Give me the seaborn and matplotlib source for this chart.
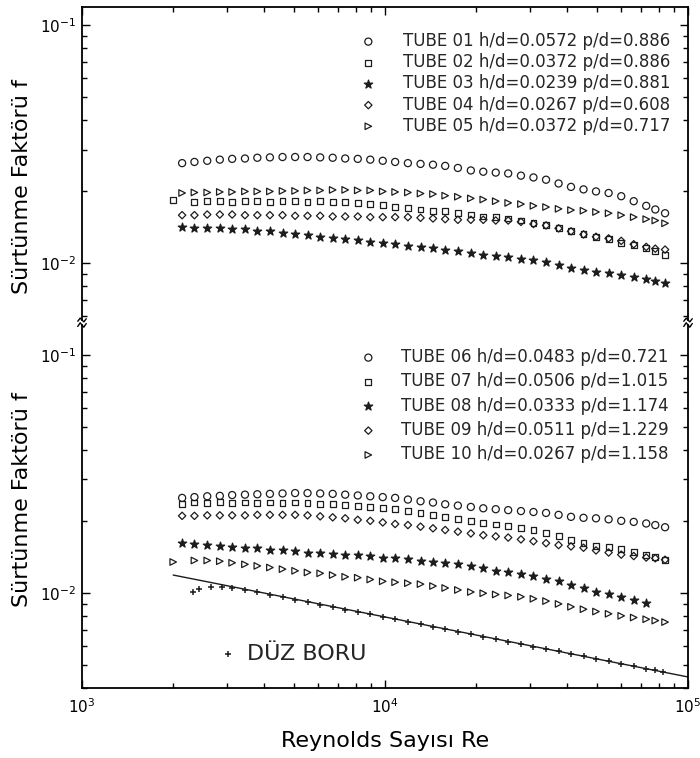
import matplotlib
matplotlib.use("Agg")
import matplotlib.pyplot as plt
import matplotlib.ticker as mticker
import seaborn as sns
import pandas as pd

# ---------------- data ----------------
RE_A = [2140, 2350, 2590, 2850, 3130, 3450, 3790, 4170, 4590, 5050, 5550, 6110, 6720, 7390,
        8130, 8940, 9830, 10800, 11900, 13100, 14400, 15800, 17400, 19200, 21100, 23200, 25500,
        28100, 30900, 34000, 37400, 41100, 45200, 49700, 54700, 60200, 66200, 72800, 78000, 84000]
RE_B = [2000, 2350, 2590, 2850, 3130, 3450, 3790, 4170, 4590, 5050, 5550, 6110, 6720, 7390,
        8130, 8940, 9830, 10800, 11900, 13100, 14400, 15800, 17400, 19200, 21100, 23200, 25500,
        28100, 30900, 34000, 37400, 41100, 45200, 49700, 54700, 60200, 66200, 72800, 78000, 84000]
RE_C = [2140, 2350, 2590, 2850, 3130, 3450, 3790, 4170, 4590, 5050, 5550, 6110, 6720, 7390,
        8130, 8940, 9830, 10800, 11900, 13100, 14400, 15800, 17400, 19200, 21100, 23200, 25500,
        28100, 30900, 34000, 37400, 41100, 45200, 49700, 54700, 60200, 66200, 72800]
RE_SMOOTH = [2320, 2440, 2660, 2900, 3130, 3450, 3790, 4170, 4590, 5050, 5550, 6110, 6720, 7390,
             8130, 8940, 9830, 10800, 11900, 13100, 14400, 15800, 17400, 19200, 21100, 23200, 25500,
             28100, 30900, 34000, 37400, 41100, 45200, 49700, 54700, 60200, 66200, 72800, 78000, 82600]

F01 = [0.0263, 0.0266, 0.0269, 0.0272, 0.0274, 0.0275, 0.0277, 0.0278, 0.0279, 0.0279, 0.0279, 0.0278,
       0.0277, 0.0275, 0.0274, 0.0272, 0.0269, 0.0266, 0.0263, 0.0261, 0.0259, 0.0256, 0.0251, 0.0245,
       0.0242, 0.0240, 0.0238, 0.0233, 0.0229, 0.0224, 0.0216, 0.0209, 0.0204, 0.0200, 0.0197, 0.0191,
       0.0182, 0.0174, 0.0168, 0.0162]
F02 = [0.0184, 0.0181, 0.0183, 0.0182, 0.0181, 0.0183, 0.0182, 0.0181, 0.0182, 0.0182, 0.0181, 0.0182,
       0.0181, 0.0180, 0.0179, 0.0177, 0.0175, 0.0172, 0.0170, 0.0168, 0.0166, 0.0165, 0.0163, 0.0160,
       0.0157, 0.0156, 0.0154, 0.0151, 0.0147, 0.0144, 0.0140, 0.0136, 0.0132, 0.0129, 0.0126, 0.0122,
       0.0119, 0.0116, 0.0112, 0.0108]
F03 = [0.0142, 0.0141, 0.0140, 0.0140, 0.0139, 0.0139, 0.0137, 0.0136, 0.0134, 0.0133, 0.0131, 0.0129,
       0.0128, 0.0126, 0.0125, 0.0123, 0.0121, 0.0120, 0.0118, 0.0117, 0.0116, 0.0114, 0.0112, 0.0110,
       0.0108, 0.0107, 0.0106, 0.0104, 0.0103, 0.0101, 0.00982, 0.00955, 0.00933, 0.00918, 0.00908,
       0.00891, 0.00875, 0.00859, 0.00843, 0.00824]
F04 = [0.0159, 0.0159, 0.0160, 0.0160, 0.0160, 0.0159, 0.0159, 0.0159, 0.0159, 0.0158, 0.0158, 0.0158,
       0.0157, 0.0157, 0.0157, 0.0156, 0.0156, 0.0156, 0.0156, 0.0155, 0.0154, 0.0153, 0.0152, 0.0152,
       0.0152, 0.0151, 0.0151, 0.0149, 0.0146, 0.0144, 0.0140, 0.0136, 0.0132, 0.0129, 0.0127, 0.0124,
       0.0120, 0.0117, 0.0115, 0.0114]
F05 = [0.0197, 0.0198, 0.0198, 0.0199, 0.0199, 0.0200, 0.0200, 0.0200, 0.0201, 0.0201, 0.0202, 0.0202,
       0.0203, 0.0203, 0.0202, 0.0202, 0.0200, 0.0199, 0.0198, 0.0196, 0.0195, 0.0192, 0.0190, 0.0187,
       0.0185, 0.0182, 0.0179, 0.0177, 0.0174, 0.0172, 0.0169, 0.0167, 0.0166, 0.0164, 0.0162, 0.0159,
       0.0156, 0.0153, 0.0151, 0.0147]
F06 = [0.0251, 0.0253, 0.0255, 0.0256, 0.0258, 0.0259, 0.0260, 0.0261, 0.0262, 0.0263, 0.0263, 0.0262,
       0.0261, 0.0259, 0.0257, 0.0255, 0.0253, 0.0251, 0.0247, 0.0243, 0.0240, 0.0236, 0.0233, 0.0230,
       0.0227, 0.0225, 0.0223, 0.0221, 0.0219, 0.0217, 0.0213, 0.0209, 0.0207, 0.0206, 0.0204, 0.0201,
       0.0199, 0.0196, 0.0193, 0.0189]
F07 = [0.0236, 0.0240, 0.0238, 0.0241, 0.0239, 0.0240, 0.0238, 0.0240, 0.0239, 0.0240, 0.0238, 0.0237,
       0.0236, 0.0234, 0.0232, 0.0230, 0.0228, 0.0225, 0.0221, 0.0217, 0.0213, 0.0209, 0.0205, 0.0201,
       0.0197, 0.0194, 0.0191, 0.0188, 0.0184, 0.0179, 0.0173, 0.0167, 0.0162, 0.0158, 0.0156, 0.0153,
       0.0149, 0.0145, 0.0142, 0.0138]
F08 = [0.0162, 0.0161, 0.0159, 0.0158, 0.0156, 0.0155, 0.0154, 0.0152, 0.0151, 0.0150, 0.0148, 0.0147,
       0.0146, 0.0145, 0.0144, 0.0143, 0.0141, 0.0140, 0.0139, 0.0136, 0.0135, 0.0134, 0.0132, 0.0130,
       0.0127, 0.0124, 0.0122, 0.0120, 0.0118, 0.0115, 0.0112, 0.0108, 0.0105, 0.0101, 0.00991, 0.00966,
       0.00938, 0.00908]
F09 = [0.0211, 0.0211, 0.0212, 0.0212, 0.0212, 0.0212, 0.0213, 0.0213, 0.0213, 0.0213, 0.0212, 0.0210,
       0.0208, 0.0206, 0.0203, 0.0201, 0.0198, 0.0195, 0.0193, 0.0190, 0.0187, 0.0184, 0.0181, 0.0178,
       0.0175, 0.0173, 0.0171, 0.0168, 0.0165, 0.0162, 0.0159, 0.0157, 0.0155, 0.0151, 0.0148, 0.0145,
       0.0143, 0.0141, 0.0140, 0.0138]
F10 = [0.0135, 0.0137, 0.0137, 0.0136, 0.0134, 0.0132, 0.0130, 0.0128, 0.0126, 0.0124, 0.0122, 0.0121,
       0.0119, 0.0117, 0.0116, 0.0114, 0.0112, 0.0111, 0.0110, 0.0109, 0.0107, 0.0105, 0.0103, 0.0101,
       0.00998, 0.00986, 0.00977, 0.00964, 0.00946, 0.00925, 0.00900, 0.00875, 0.00855, 0.00836,
       0.00818, 0.00802, 0.00789, 0.00776, 0.00766, 0.00755]
F_SMOOTH = [0.0101, 0.0104, 0.0106, 0.0106, 0.0105, 0.01031, 0.01006, 0.00983, 0.00960, 0.00937,
            0.00915, 0.00894, 0.00873, 0.00852, 0.00832, 0.00813, 0.00793, 0.00775, 0.00756, 0.00738,
            0.00721, 0.00704, 0.00688, 0.00671, 0.00655, 0.00640, 0.00625, 0.00610, 0.00596, 0.00582,
            0.00568, 0.00555, 0.00542, 0.00529, 0.00516, 0.00504, 0.00492, 0.00481, 0.00473, 0.00466]
LINE_RE = [2000, 100000]
LINE_F = [0.0119, 0.00444]

LABELS_TOP = ["TUBE 01 h/d=0.0572 p/d=0.886", "TUBE 02 h/d=0.0372 p/d=0.886",
              "TUBE 03 h/d=0.0239 p/d=0.881", "TUBE 04 h/d=0.0267 p/d=0.608",
              "TUBE 05 h/d=0.0372 p/d=0.717"]
LABELS_BOT = ["TUBE 06 h/d=0.0483 p/d=0.721", "TUBE 07 h/d=0.0506 p/d=1.015",
              "TUBE 08 h/d=0.0333 p/d=1.174", "TUBE 09 h/d=0.0511 p/d=1.229",
              "TUBE 10 h/d=0.0267 p/d=1.158"]
SMOOTH_LABEL = "DÜZ BORU"
X_LABEL = "Reynolds Sayısı Re"
Y_LABEL = "Sürtünme Faktörü f"

# ---------------- style ----------------
sns.set_theme(style="white")
plt.rcParams["font.family"] = ["DejaVu Sans"]
plt.rcParams["mathtext.fontset"] = "dejavusans"

W, H = 700, 758
fig = plt.figure(figsize=(W / 100, H / 100), dpi=100)
fig.patch.set_facecolor("white")
L, R = 82, 688
ax_t = fig.add_axes([L / W, 1 - 320 / H, (R - L) / W, (320 - 7) / H])
ax_b = fig.add_axes([L / W, 1 - 688 / H, (R - L) / W, (688 - 325) / H])

INK = "#1c1c1c"
# marker style per series: (marker, size, filled)
STYLES = [("o", 26, False), ("s", 18, False), ("*", 40, True), ("D", 14, False), (">", 22, False)]


def draw(ax, res, fs, labels):
    for (mk, sz, filled), x, y, lab in zip(STYLES, res, fs, labels):
        df = pd.DataFrame({"Re": x, "f": y})
        kw = dict(facecolor=INK if filled else "none", edgecolor=INK, linewidth=0.9)
        sns.scatterplot(data=df, x="Re", y="f", marker=mk, s=sz, label=lab, ax=ax, **kw)


draw(ax_t, [RE_A, RE_B, RE_A, RE_A, RE_A], [F01, F02, F03, F04, F05], LABELS_TOP)
draw(ax_b, [RE_A, RE_A, RE_C, RE_A, RE_B], [F06, F07, F08, F09, F10], LABELS_BOT)

# smooth tube
sns.lineplot(x=LINE_RE, y=LINE_F, ax=ax_b, color=INK, linewidth=1.0, legend=False)
sns.scatterplot(x=RE_SMOOTH, y=F_SMOOTH, ax=ax_b, marker="+", s=18, color=INK,
                linewidth=1.1, label=SMOOTH_LABEL)

for ax, ylim in ((ax_t, (0.00577, 0.119)), (ax_b, (0.00399, 0.1337))):
    ax.set_xscale("log")
    ax.set_yscale("log")
    ax.set_xlim(1e3, 1e5)
    ax.set_ylim(*ylim)
    ax.set_facecolor("white")
    for s in ax.spines.values():
        s.set_color("black")
        s.set_linewidth(1.3)
    ax.yaxis.set_major_locator(mticker.LogLocator(base=10, numticks=10))
    ax.yaxis.set_minor_locator(mticker.LogLocator(base=10, subs=range(2, 10), numticks=10))
    ax.yaxis.set_minor_formatter(mticker.NullFormatter())
    ax.xaxis.set_minor_locator(mticker.LogLocator(base=10, subs=range(2, 10), numticks=10))
    ax.xaxis.set_minor_formatter(mticker.NullFormatter())
    ax.tick_params(which="both", direction="in", left=True, right=True, color="black",
                   labelsize=11, labelcolor="black", width=1.0)
    ax.tick_params(which="major", length=6, pad=4)
    ax.tick_params(which="minor", length=3.5)
    ax.set_ylabel(Y_LABEL, fontsize=16, color="black")
    ax.set_xlabel("")

# top panel: no bottom spine, ticks on top
ax_t.spines["bottom"].set_visible(False)
ax_t.tick_params(axis="x", which="both", bottom=False, top=True, labelbottom=False)
ax_t.yaxis.set_label_coords(-0.083, 0.425)
# bottom panel: no top spine
ax_b.spines["top"].set_visible(False)
ax_b.tick_params(axis="x", which="both", bottom=True, top=False, labelbottom=True, pad=7)
ax_b.yaxis.set_label_coords(-0.083, 0.52)
ax_b.set_xlabel(X_LABEL, fontsize=16, color="black")
ax_b.xaxis.set_label_coords(0.5, -0.118)

# axis-break marks
for ax, yb in ((ax_t, 0.0), (ax_b, 1.0)):
    for xb in (0.0, 1.0):
        ax.plot([xb - 0.007, xb - 0.003, xb + 0.003, xb + 0.007],
                [yb - 0.004, yb + 0.006, yb - 0.006, yb + 0.004],
                transform=ax.transAxes, clip_on=False, color="black", lw=1.0)

# legends
hs, ls = ax_t.get_legend_handles_labels()
ax_t.legend(hs[:5], ls[:5], loc="upper left", bbox_to_anchor=(360 / W, 1 - 32 / H),
            bbox_transform=fig.transFigure, frameon=False, fontsize=12, scatterpoints=1,
            handlelength=1.0, handletextpad=1.57, labelspacing=0.19, borderpad=0,
            borderaxespad=0)

hs, ls = ax_b.get_legend_handles_labels()
leg1 = ax_b.legend(hs[:5], ls[:5], loc="upper left", bbox_to_anchor=(360 / W, 1 - 348 / H),
                   bbox_transform=fig.transFigure, frameon=False, fontsize=12, scatterpoints=1,
                   handlelength=1.0, handletextpad=1.45, labelspacing=0.38, borderpad=0,
                   borderaxespad=0)
ax_b.add_artist(leg1)
ax_b.legend(hs[5:6], ls[5:6], loc="upper left", bbox_to_anchor=(221 / W, 1 - 644 / H),
            bbox_transform=fig.transFigure, frameon=False, fontsize=16, scatterpoints=1,
            handlelength=0.6, handletextpad=0.57, borderpad=0, borderaxespad=0)

fig.savefig("out.png", dpi=100, facecolor="white")
